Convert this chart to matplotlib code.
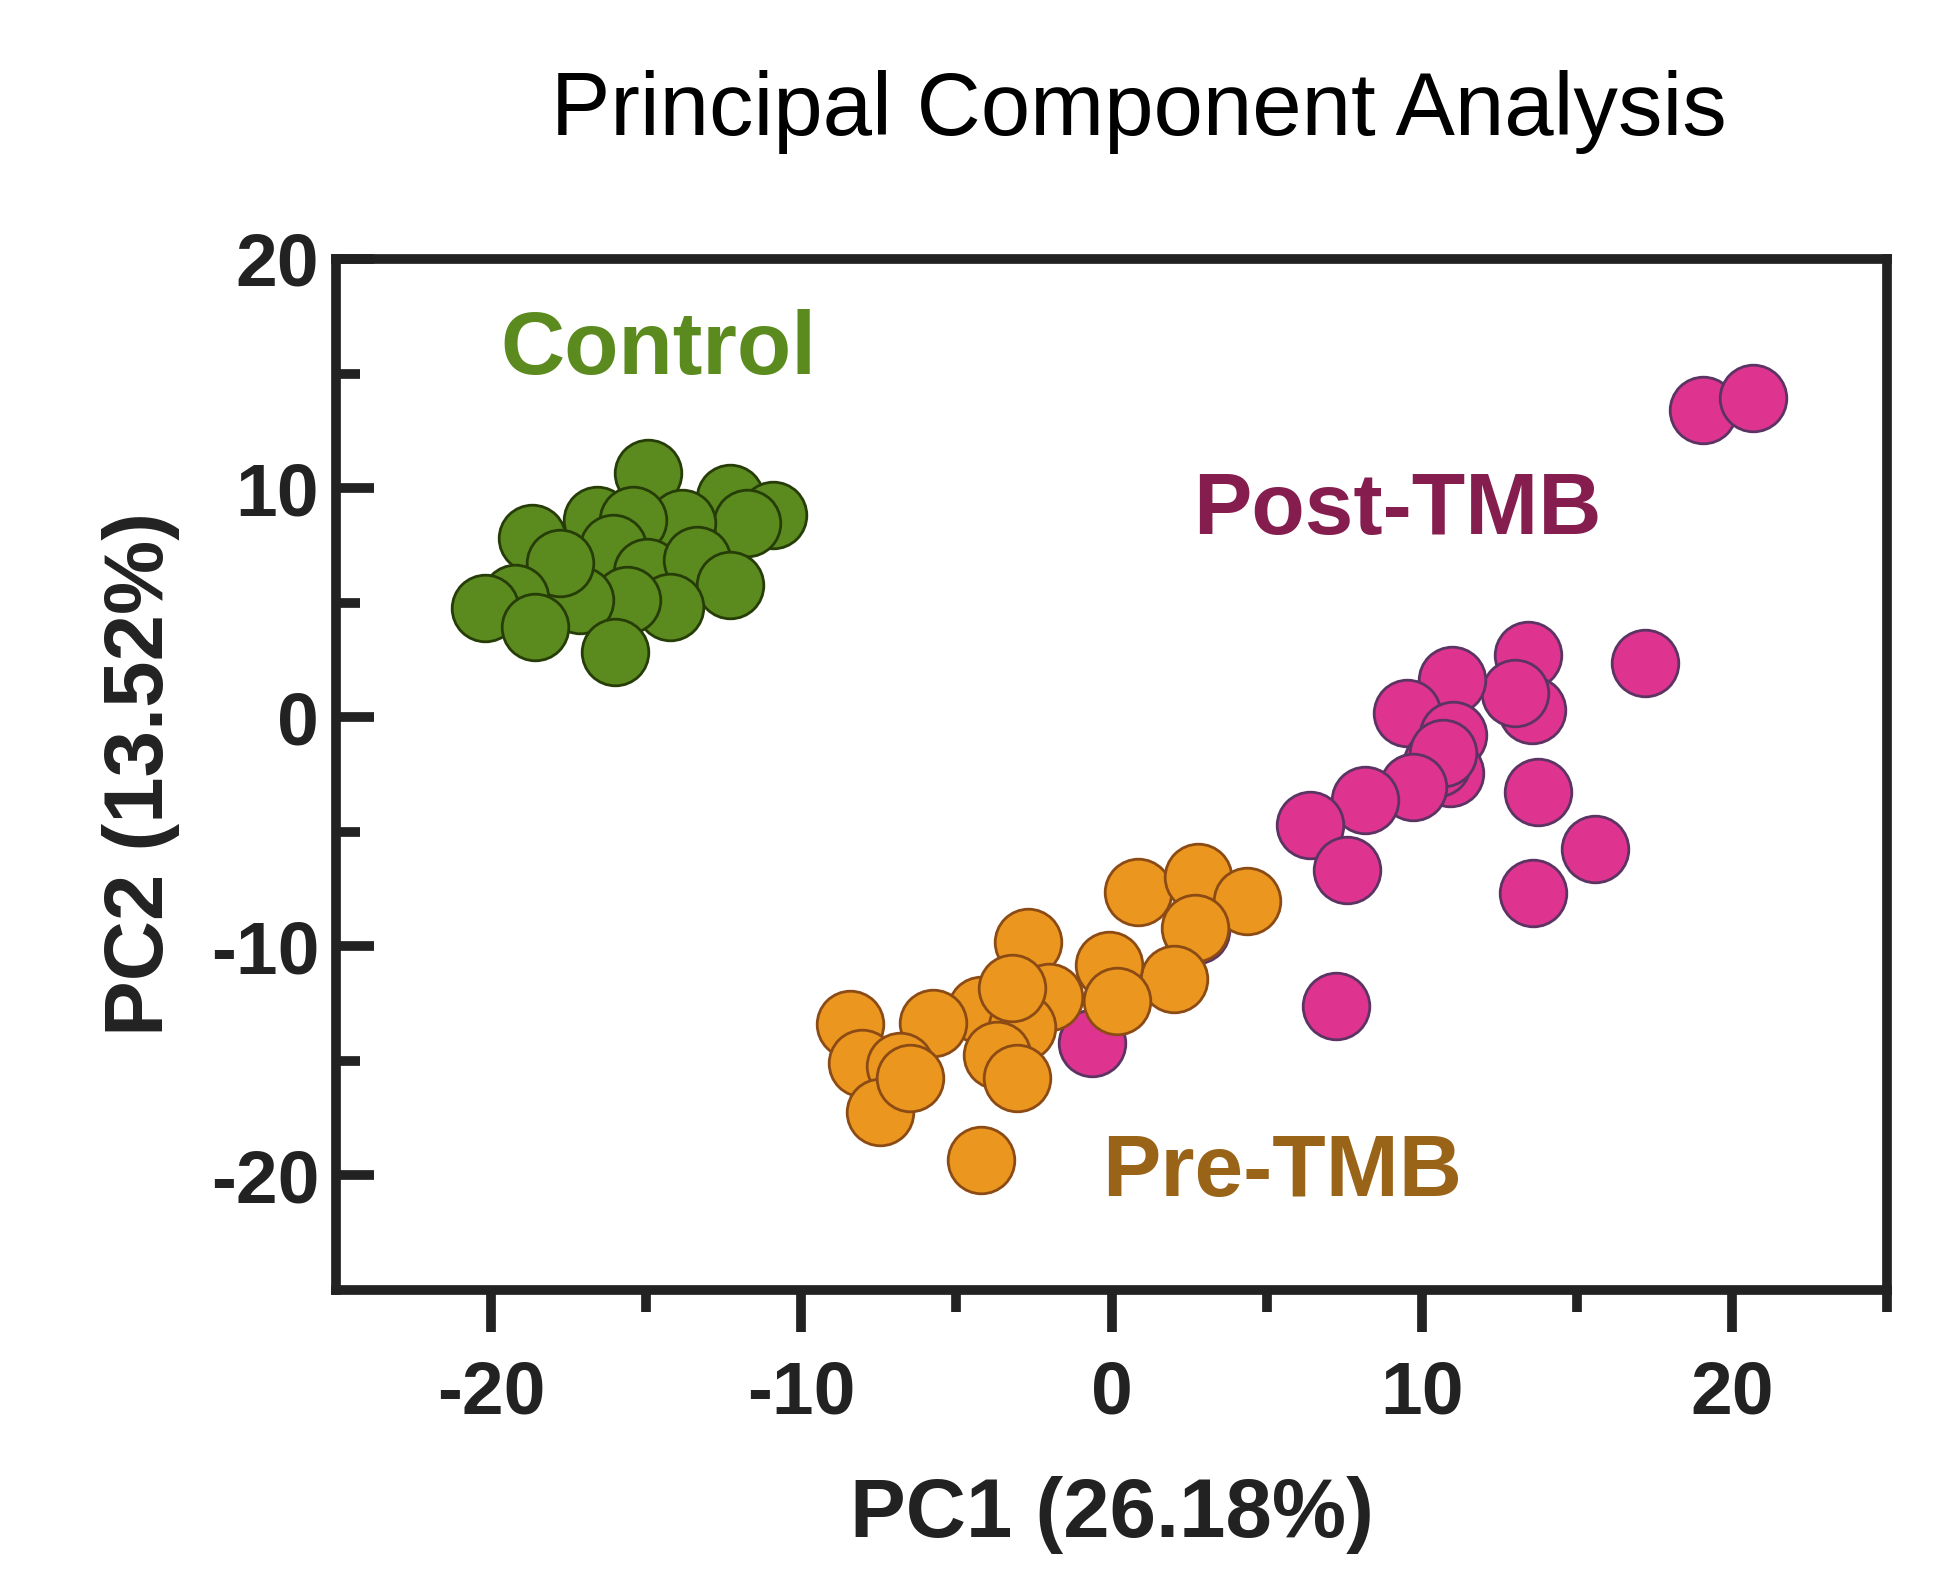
import numpy as np
import matplotlib
matplotlib.use("Agg")
import matplotlib.pyplot as plt
from matplotlib.ticker import FixedLocator

plt.rcParams["font.family"] = ["Liberation Sans", "DejaVu Sans"]
plt.rcParams["axes.unicode_minus"] = False

# PCA scores
control_pc1 = [-14.94, -12.30, -10.91, -11.75, -13.85, -16.59, -15.43, -18.68, -16.07, -14.97,
               -13.36, -12.30, -14.23, -15.62, -17.13, -17.78, -19.23, -20.20, -18.58, -16.01]
control_pc2 = [10.66, 9.57, 8.83, 8.48, 8.48, 8.61, 8.61, 7.82, 7.39, 6.34,
               6.86, 5.77, 4.81, 5.12, 5.12, 6.73, 5.20, 4.77, 3.94, 2.85]

pre_pc1 = [0.85, 2.79, 4.37, 2.69, 2.01, -0.08, 0.18, -2.69, -2.01, -4.21, -2.89,
           -3.69, -3.05, -5.75, -8.43, -8.04, -6.82, -7.46, -4.21, -6.50, -3.21]
pre_pc2 = [-7.63, -6.97, -8.02, -9.20, -11.43, -10.82, -12.39, -9.81, -12.21, -12.78, -13.52,
           -14.74, -15.75, -13.35, -13.39, -15.09, -15.22, -17.23, -19.33, -15.75, -11.82]

post_pc1 = [13.43, 13.56, 13.01, 10.98, 9.53, 11.01, 10.91, 10.49, 10.69, 9.72, 8.17,
            6.40, 7.59, 13.75, 13.59, 15.59, 17.20, 7.24, -0.63, 19.07, 20.68, 2.73]
post_pc2 = [2.71, 0.31, 1.06, 1.62, 0.18, -0.78, -2.44, -2.00, -1.56, -3.05, -3.61,
            -4.71, -6.67, -3.27, -7.67, -5.75, 2.37, -12.61, -14.22, 13.41, 13.93, -9.30]

fig = plt.figure(figsize=(19.5, 15.83), dpi=100)
ax = fig.add_axes([0.1723, 0.1851, 0.7954, 0.6513])

size = 2300
ax.scatter(post_pc1, post_pc2, s=size, color="#de338f", edgecolor="#5b3463", linewidth=2, zorder=2)
ax.scatter(pre_pc1, pre_pc2, s=size, color="#ea961f", edgecolor="#8c4b14", linewidth=2, zorder=3)
ax.scatter(control_pc1, control_pc2, s=size, color="#5b8b1e", edgecolor="#263d08", linewidth=2, zorder=4)

ax.text(-14.6, 16.0, "Control", color="#5b8b1e", fontsize=64, fontweight="bold", ha="center", va="center")
ax.text(9.2, 9.0, "Post-TMB", color="#851d4f", fontsize=63, fontweight="bold", ha="center", va="center")
ax.text(5.5, -19.9, "Pre-TMB", color="#9a6418", fontsize=63, fontweight="bold", ha="center", va="center")

ax.set_xlim(-25, 25)
ax.set_ylim(-25, 20)
ax.xaxis.set_major_locator(FixedLocator([-20, -10, 0, 10, 20]))
ax.xaxis.set_minor_locator(FixedLocator([-15, -5, 5, 15, 25]))
ax.yaxis.set_major_locator(FixedLocator([-20, -10, 0, 10, 20]))
ax.yaxis.set_minor_locator(FixedLocator([-15, -5, 5, 15]))

for sp in ax.spines.values():
    sp.set_linewidth(7)
    sp.set_color("#222222")
ax.tick_params(axis="x", which="major", direction="out", length=30, width=7, pad=20,
               labelsize=54, colors="#222222")
ax.tick_params(axis="x", which="minor", direction="out", length=16, width=7, colors="#222222")
ax.tick_params(axis="y", which="major", direction="in", length=27, width=7, pad=12,
               labelsize=54, colors="#222222")
ax.tick_params(axis="y", which="minor", direction="in", length=17, width=7, colors="#222222")
for lab in ax.get_xticklabels() + ax.get_yticklabels():
    lab.set_fontweight("bold")

ax.set_xlabel("PC1 (26.18%)", fontsize=60, fontweight="bold", color="#222222", labelpad=34)
ax.set_ylabel("PC2 (13.52%)", fontsize=60, fontweight="bold", color="#222222", labelpad=22)
fig.text(0.584, 0.929, "Principal Component Analysis", fontsize=64, ha="center", va="center")

fig.savefig("out.png", dpi=100)
